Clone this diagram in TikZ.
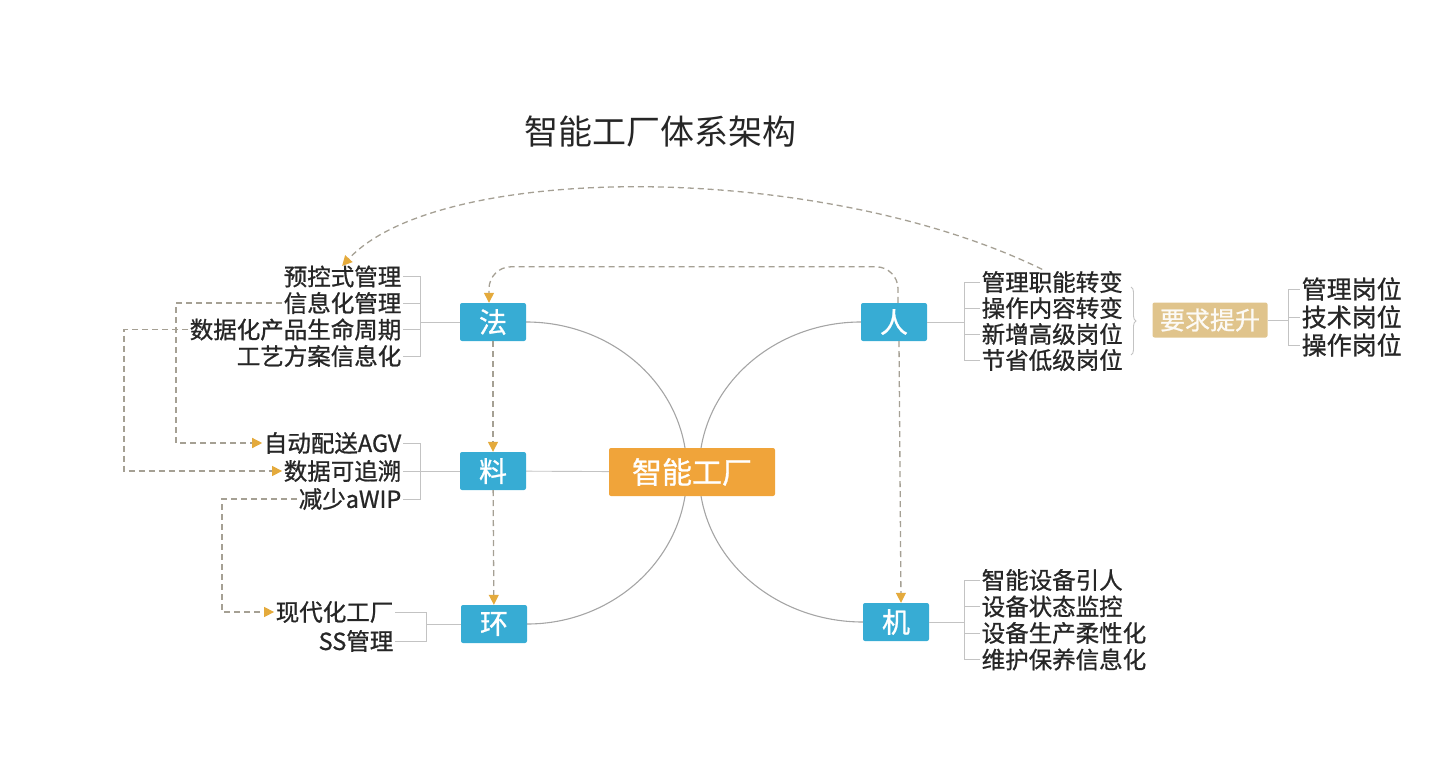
\documentclass[tikz,border=0pt]{standalone}
\usepackage{fontspec}
\setmainfont{Noto Sans CJK SC}
\newfontfamily\heavycjk{Noto Sans CJK SC}[FakeBold=0.9]
\usepackage{xcolor}
\usepackage{tikz}
\usetikzlibrary{
    arrows.meta,
    positioning,
    calc,
    backgrounds,
    decorations.pathreplacing
}
\definecolor{partblue}{RGB}{55,172,212}
\definecolor{huborange}{RGB}{240,164,58}
\definecolor{goaltan}{RGB}{224,196,140}
\definecolor{twiggray}{RGB}{195,195,195}
\definecolor{arcgray}{RGB}{165,165,165}
\definecolor{flowgray}{RGB}{165,160,148}
\definecolor{tipgold}{RGB}{228,170,60}
\tikzset{
    part/.style={
        fill=partblue,
        text=white,
        rounded corners=2pt,
        minimum width=66pt,
        minimum height=38pt,
        inner sep=0pt,
        font=\heavycjk\fontsize{28}{30}\selectfont
    }
}
\tikzset{
    hub/.style={
        fill=huborange,
        text=white,
        rounded corners=2pt,
        minimum width=166pt,
        minimum height=48pt,
        inner sep=0pt,
        font=\heavycjk\fontsize{30}{32}\selectfont
    }
}
\tikzset{
    goal/.style={
        fill=goaltan,
        text=white!92!goaltan,
        rounded corners=2pt,
        minimum width=115pt,
        minimum height=35pt,
        inner sep=0pt,
        font=\heavycjk\fontsize{25}{27}\selectfont
    }
}
\tikzset{
    item/.style={
        inner sep=1.5pt,
        text=black!85,
        font=\heavycjk\fontsize{23.5}{26}\selectfont
    }
}
\tikzset{
    twig/.style={
        draw=twiggray,
        line width=0.9pt
    }
}
\tikzset{
    arc/.style={
        draw=arcgray,
        line width=1.1pt
    }
}
\tikzset{
    flow/.style={
        draw=flowgray,
        dash pattern=on 6pt off 4pt,
        line width=1.3pt,
        -{Triangle[color=tipgold, length=10pt, width=10pt]}
    }
}

\begin{document}
\begin{tikzpicture}[x=1pt, y=-1pt]

\useasboundingbox (0,0) rectangle (1443,773);

% ------------------------------------------------------------
% Title and main blocks
% ------------------------------------------------------------

\node[font=\fontsize{34}{36}\selectfont, text=black!85] (title) at (660,132) {智能工厂体系架构};

\node[hub]  (hub)  at (692,472) {智能工厂};
\node[part] (fa)   at (493,322) {法};
\node[part] (liao) at (493,471) {料};
\node[part] (huan) at (494,624) {环};
\node[part] (ren)  at (894,322) {人};
\node[part] (ji)   at (896,622) {机};
\node[goal] (goal) at (1210,320) {要求提升};

% ------------------------------------------------------------
% Left groups
% ------------------------------------------------------------

\foreach \txt [count=\i] in {预控式管理,信息化管理,数据化产品生命周期,工艺方案信息化}
    \node[item, anchor=east] (fa-\i) at (403,250+26.5*\i) {\txt};
\coordinate (fab) at (420,322);
\foreach \i in {1,...,4}
    \draw[twig] (fa-\i.east) -| (fab);
\draw[twig] (fab) -- (fa);

\foreach \txt [count=\i] in {自动配送AGV,数据可追溯,减少aWIP}
    \node[item, anchor=east] (liao-\i) at (403,415+28*\i) {\txt};
\coordinate (liaob) at (420,471);
\foreach \i in {1,...,3}
    \draw[twig] (liao-\i.east) -| (liaob);
\draw[twig] (liaob) -- (liao);

\foreach \txt [count=\i] in {现代化工厂,SS管理}
    \node[item, anchor=east] (huan-\i) at (395,583+29*\i) {\txt};
\coordinate (huanb) at (426,624);
\foreach \i in {1,2}
    \draw[twig] (huan-\i.east) -| (huanb);
\draw[twig] (huanb) -- (huan);

% ------------------------------------------------------------
% Right groups
% ------------------------------------------------------------

\foreach \txt [count=\i] in {管理职能转变,操作内容转变,新增高级岗位,节省低级岗位}
    \node[item, anchor=west] (ren-\i) at (980,256+26*\i) {\txt};
\coordinate (renb) at (964,322);
\foreach \i in {1,...,4}
    \draw[twig] (ren-\i.west) -| (renb);
\draw[twig] (ren) -- (renb);

\coordinate (bracetop) at (1131,287);
\coordinate (bracebot) at (1131,355);
\draw[twig, decorate, decoration={brace, amplitude=5pt}] (bracetop) -- (bracebot);

\foreach \txt [count=\i] in {管理岗位,技术岗位,操作岗位}
    \node[item, anchor=west, font=\heavycjk\fontsize{25}{27}\selectfont] (goal-\i) at (1300,261+28*\i) {\txt};
\coordinate (goalb) at (1288,320);
\foreach \i in {1,...,3}
    \draw[twig] (goal-\i.west) -| (goalb);
\draw[twig] (goal) -- (goalb);

\foreach \txt [count=\i] in {智能设备引人,设备状态监控,设备生产柔性化,维护保养信息化}
    \node[item, anchor=west] (ji-\i) at (980,553.5+26.5*\i) {\txt};
\coordinate (jib) at (964,622);
\foreach \i in {1,...,4}
    \draw[twig] (ji-\i.west) -| (jib);
\draw[twig] (ji) -- (jib);

% ------------------------------------------------------------
% Curves to the hub
% ------------------------------------------------------------

\coordinate (hubl) at (687,472);
\coordinate (hubr) at (699,472);
\begin{scope}[on background layer]
    \draw[arc] (fa.east) to[out=0, in=90] (hubl) to[out=-90, in=0] (huan.east);
    \draw[arc] (ren.west) to[out=180, in=90] (hubr) to[out=-90, in=180] (ji.west);
    \draw[twig] (liao) -- (hub);
\end{scope}

% ------------------------------------------------------------
% Dashed flows
% ------------------------------------------------------------

\draw[flow] (fa) -- (liao);
\draw[flow] (liao) -- (huan);
\draw[flow] ([xshift=5pt]ren.south) -- ([xshift=5pt]ji.north);
\draw[flow, rounded corners=22pt] ([xshift=4pt]ren.north) -- ++(0,-36) -| ([xshift=-4pt]fa.north);
\draw[flow] ([xshift=-10pt]ren-1.north) .. controls (820,161) and (440,161) .. ([xshift=60pt, yshift=-2pt]fa-1.north west);

\draw[flow] (fa-2.west) -- ++(-106,0) |- (liao-1.west);
\draw[flow] (fa-3.west) -- ++(-64,0) |- (liao-2.west);
\draw[flow] (liao-3.west) -- ++(-75,0) |- (huan-1.west);

\end{tikzpicture}
\end{document}
